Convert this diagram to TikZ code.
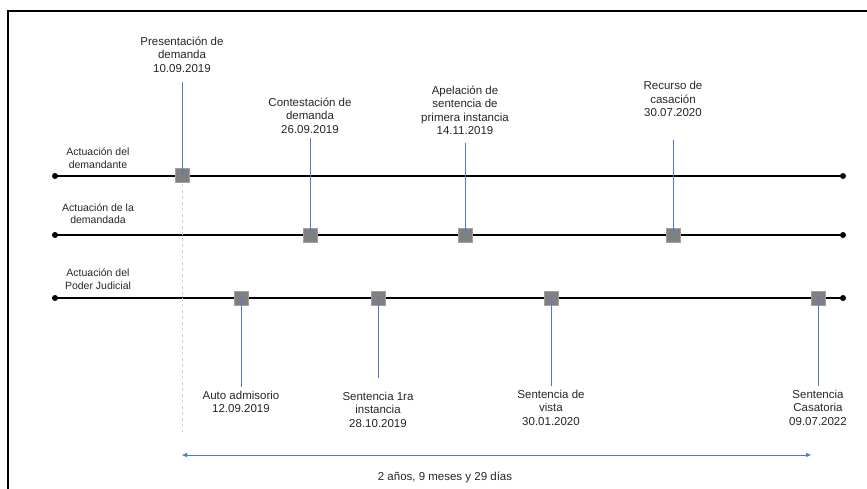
\documentclass[tikz,border=0pt]{standalone}
\usepackage{fontspec}
\setmainfont{Liberation Sans}
\usetikzlibrary{arrows.meta}
\definecolor{lblue}{HTML}{4A7BD0}
\definecolor{sqgray}{HTML}{808080}
\definecolor{sqborder}{HTML}{A0A0A0}
\definecolor{dashgray}{HTML}{D0D0D0}
\begin{document}
\begin{tikzpicture}[x=1pt,y=-1pt,
  evt/.style={font=\fontsize{11.5}{13.5}\selectfont, align=center, inner sep=0pt, text=black!85},
  rowlbl/.style={font=\fontsize{10.5}{12.5}\selectfont, align=center, inner sep=0pt, text=black!85},
  sq/.style={draw=sqborder, fill=sqgray, minimum size=14pt, inner sep=0pt, line width=0.6pt},
  tl/.style={line width=1.6pt, black},
  dot/.style={circle, fill=black, inner sep=0pt, minimum size=6pt},
  conn/.style={draw=lblue, line width=0.8pt},
  frame/.style={line width=1.8pt, black}]
\useasboundingbox (0,0) rectangle (867,488);
% frame
\draw[frame] (8,500) -- (8,11) -- (880,11);
% timeline ends
\node[dot] (d1a) at (55,176) {};
\node[dot] (d1b) at (843,176) {};
\node[dot] (d2a) at (55,235) {};
\node[dot] (d2b) at (843,235) {};
\node[dot] (d3a) at (55,298) {};
\node[dot] (d3b) at (843,298) {};
\draw[tl] (d1a.center) -- (d1b.center);
\draw[tl] (d2a.center) -- (d2b.center);
\draw[tl] (d3a.center) -- (d3b.center);
% row labels
\node[rowlbl] (r1) at (98,158) {Actuación del\\demandante};
\node[rowlbl] (r2) at (98,213.5) {Actuación de la\\demandada};
\node[rowlbl] (r3) at (98,279) {Actuación del\\Poder Judicial};
% dashed guide
\coordinate (g1) at (182,184);
\coordinate (g2) at (182,432);
\draw[dashgray, dashed, line width=0.7pt] (g1) -- (g2);
% squares
\node[sq] (s1) at (182,175) {};
\node[sq] (s2) at (310,235) {};
\node[sq] (s3) at (465,235) {};
\node[sq] (s4) at (673,235) {};
\node[sq] (s5) at (241,298) {};
\node[sq] (s6) at (378,298) {};
\node[sq] (s7) at (551,298) {};
\node[sq] (s8) at (818,298) {};
% event labels
\node[evt] (e1) at (182,54.5) {Presentación de\\demanda\\10.09.2019};
\node[evt] (e2) at (310,115.5) {Contestación de\\demanda\\26.09.2019};
\node[evt] (e3) at (465,110.5) {Apelación de\\sentencia de\\primera instancia\\14.11.2019};
\node[evt] (e4) at (673,99) {Recurso de\\casación\\30.07.2020};
\node[evt] (e5) at (241,402) {Auto admisorio\\12.09.2019};
\node[evt] (e6) at (378,409.5) {Sentencia 1ra\\instancia\\28.10.2019};
\node[evt] (e7) at (551,407.5) {Sentencia de\\vista\\30.01.2020};
\node[evt] (e8) at (818,407.5) {Sentencia\\Casatoria\\09.07.2022};
% connector free ends
\coordinate (c1) at (182,82);
\coordinate (c2) at (310,138);
\coordinate (c3) at (465,143);
\coordinate (c4) at (673,140);
\coordinate (c5) at (241,387);
\coordinate (c6) at (378,378);
\coordinate (c7) at (551,386);
\coordinate (c8) at (818,386);
\draw[conn] (c1) -- (s1.center);
\draw[conn] (c2) -- (s2.center);
\draw[conn] (c3) -- (s3.center);
\draw[conn] (c4) -- (s4.center);
\draw[conn] (c5) -- (s5.center);
\draw[conn] (c6) -- (s6.center);
\draw[conn] (c7) -- (s7.center);
\draw[conn] (c8) -- (s8.center);
% duration arrow
\coordinate (a1) at (182,455);
\coordinate (a2) at (811,455);
\draw[lblue, line width=0.8pt, {Triangle[length=5pt,width=4pt]}-{Triangle[length=5pt,width=4pt]}] (a1) -- (a2);
\node[evt] (dur) at (445,477) {2 años, 9 meses y 29 días};
\end{tikzpicture}
\end{document}
